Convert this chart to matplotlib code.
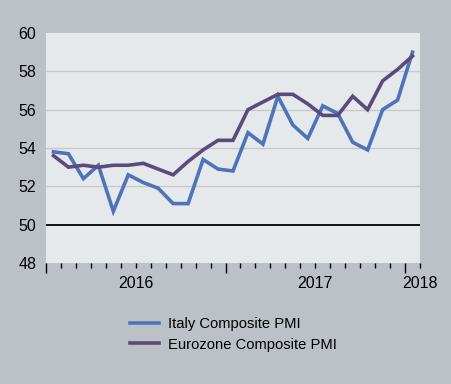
import matplotlib
matplotlib.use("Agg")
import matplotlib.pyplot as plt
import numpy as np

plt.rcParams['font.family'] = ['Liberation Sans', 'DejaVu Sans']

months = list(range(25))  # Jan 2016 .. Jan 2018
italy = [53.8, 53.7, 52.4, 53.1, 50.7, 52.6, 52.2, 51.9, 51.1, 51.1, 53.4, 52.9,
         52.8, 54.8, 54.2, 56.7, 55.2, 54.5, 56.2, 55.8, 54.3, 53.9, 56.0, 56.5, 59.0]
eurozone = [53.6, 53.0, 53.1, 53.0, 53.1, 53.1, 53.2, 52.9, 52.6, 53.3, 53.9, 54.4,
            54.4, 56.0, 56.4, 56.8, 56.8, 56.3, 55.7, 55.7, 56.7, 56.0, 57.5, 58.1, 58.8]
years = ["2016", "2017", "2018"]
year_pos = [5.5, 17.5, 24.5]
yticks = [48, 50, 52, 54, 56, 58, 60]

fig = plt.figure(figsize=(4.51, 3.84), dpi=100, facecolor='#bcc1c8')
ax = fig.add_axes([46/451, 1-263/384, 374/451, 230/384])
ax.set_facecolor('#e6e9ec')

for v in [52, 54, 56, 58]:
    ax.axhline(v, color='#c9c9c9', lw=1.0, zorder=1)
ax.axhline(50, color='black', lw=1.3, zorder=2)

l1, = ax.plot(months, italy, color='#4f73b9', lw=2.6, label='Italy Composite PMI', zorder=3,
              solid_joinstyle='miter')
l2, = ax.plot(months, eurozone, color='#5b4a7c', lw=2.6, label='Eurozone Composite PMI', zorder=4,
              solid_joinstyle='miter')

ax.set_xlim(-0.5, 24.5)
ax.set_ylim(48, 60)
for s in ax.spines.values():
    s.set_visible(False)

ax.set_yticks(yticks)
ax.set_yticklabels([str(v) for v in yticks], fontsize=11.5)
ax.tick_params(axis='y', length=0, pad=7)

ax.set_xticks([-0.5, 11.5, 23.5])
ax.set_xticklabels([])
ax.set_xticks([-0.5 + k for k in range(26)], minor=True)
ax.tick_params(axis='x', which='major', direction='out', length=7, width=1.0, color='black')
ax.tick_params(axis='x', which='minor', direction='out', length=3.5, width=1.0, color='black')

for lab, p in zip(years, year_pos):
    ax.text(p, -0.09, lab, transform=ax.get_xaxis_transform(), ha='center', va='center',
            fontsize=11.5)

fig.legend(handles=[l1, l2], loc='upper left', bbox_to_anchor=(130/451, 1-317/384),
           frameon=False, fontsize=10.6, handlelength=2.0, handletextpad=0.55,
           labelspacing=0.45, borderaxespad=0, borderpad=0)

fig.savefig('out.png', dpi=100, facecolor=fig.get_facecolor())
